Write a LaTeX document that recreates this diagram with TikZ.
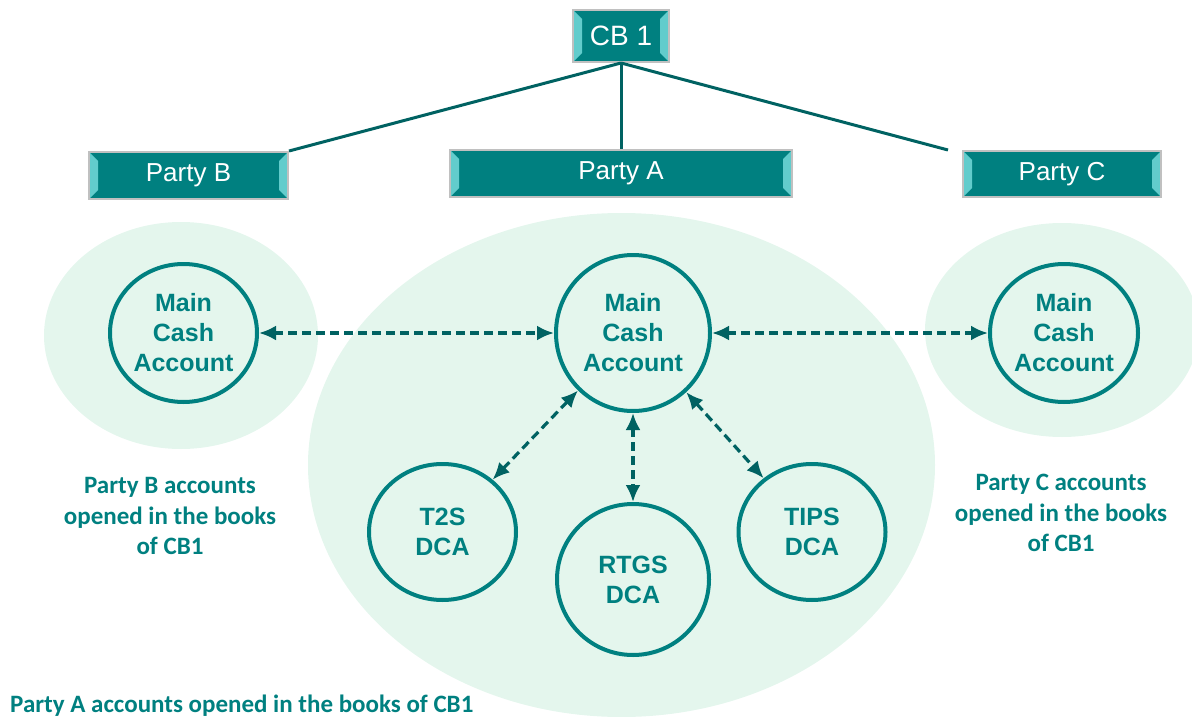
\documentclass[tikz,border=0pt]{standalone}
\usepackage{fontspec}
\setmainfont{Liberation Sans}
\newfontfamily\notefont{Carlito}
\usepackage{xcolor}
\usetikzlibrary{arrows.meta, shapes.geometric, positioning}

\definecolor{boxteal}{RGB}{0,128,128}
\definecolor{bevelcyan}{RGB}{98,204,204}
\definecolor{boxgray}{RGB}{192,192,192}
\definecolor{linkteal}{RGB}{0,98,98}
\definecolor{ringteal}{RGB}{0,128,128}
\definecolor{zonegreen}{RGB}{228,246,237}

\begin{document}
\begin{tikzpicture}[x=1pt, y=-1pt,
    bankbox/.style = {draw=boxgray, line width=2pt, fill=boxteal,
      text=white, inner sep=0pt, font=\fontsize{26}{30}\selectfont,
      path picture={
        \fill[bevelcyan] (path picture bounding box.north west) -- ++(9,9)
          -- ([shift={(9,-9)}]path picture bounding box.south west)
          -- (path picture bounding box.south west) -- cycle;
        \fill[bevelcyan] (path picture bounding box.north east) -- ++(-9,9)
          -- ([shift={(-9,-9)}]path picture bounding box.south east)
          -- (path picture bounding box.south east) -- cycle;
      }},
    zone/.style    = {ellipse, fill=zonegreen, inner sep=0pt},
    acct/.style    = {ellipse, draw=ringteal, line width=4pt, text=ringteal,
      align=center, inner sep=0pt,
      font=\bfseries\fontsize{25}{30}\selectfont},
    link/.style    = {draw=linkteal, line width=3.2pt, dash pattern=on 9pt off 5pt,
      arrows={Latex[length=17pt,width=15pt]-Latex[length=17pt,width=15pt]}},
    trunk/.style   = {draw=linkteal, line width=3pt},
    note/.style    = {text=ringteal, inner sep=0pt,
      font=\notefont\bfseries\fontsize{25}{30.5}\selectfont},
  ]
  \useasboundingbox (0,0) rectangle (1192,717);

  % light zones behind the accounts
  \node[zone, minimum width=274, minimum height=227] (zoneB) at (181,335.5) {};
  \node[zone, minimum width=627, minimum height=504] (zoneA) at (621.5,465) {};
  \node[zone, minimum width=274, minimum height=214] (zoneC) at (1062,330) {};

  % central bank and its parties
  \node[bankbox, minimum width=96,  minimum height=52,
        font=\fontsize{28}{32}\selectfont] (cb) at (621,36) {CB 1};
  \node[bankbox, minimum width=199, minimum height=47] (partyB) at (188.5,175.5) {Party B};
  \node[bankbox, minimum width=342, minimum height=47] (partyA) at (621,173.5) {Party A};
  \node[bankbox, minimum width=198, minimum height=46] (partyC) at (1062,174)  {Party C};

  \draw[trunk] (cb.south) -- (partyB.north east);
  \draw[trunk] (cb.south) -- (partyA.north);
  \draw[trunk] (cb.south) -- ([xshift=-14pt]partyC.north west);

  % accounts
  \node[acct, minimum width=147, minimum height=138] (mcaB) at (183.5,333) {Main\\Cash\\Account};
  \node[acct, minimum width=154, minimum height=156] (mcaA) at (633,333)   {Main\\Cash\\Account};
  \node[acct, minimum width=148, minimum height=138] (mcaC) at (1064,333)  {Main\\Cash\\Account};
  \node[acct, minimum width=147, minimum height=136] (t2s)  at (442.5,532) {T2S\\DCA};
  \node[acct, minimum width=152, minimum height=151] (rtgs) at (633,579.5) {RTGS\\DCA};
  \node[acct, minimum width=147, minimum height=136] (tips) at (812,532)   {TIPS\\DCA};

  \draw[link] (mcaB) -- (mcaA);
  \draw[link] (mcaA) -- (mcaC);
  \draw[link] (mcaA) -- (t2s);
  \draw[link] (mcaA) -- (rtgs);
  \draw[link] (mcaA) -- (tips);

  % captions
  \node[note, align=center] (noteB) at (170,516)  {Party B accounts\\opened in the books\\of CB1};
  \node[note, align=center] (noteC) at (1061,513) {Party C accounts\\opened in the books\\of CB1};
  \node[note, anchor=base west] (noteA) at (10,712) {Party A accounts opened in the books of CB1};
\end{tikzpicture}
\end{document}
